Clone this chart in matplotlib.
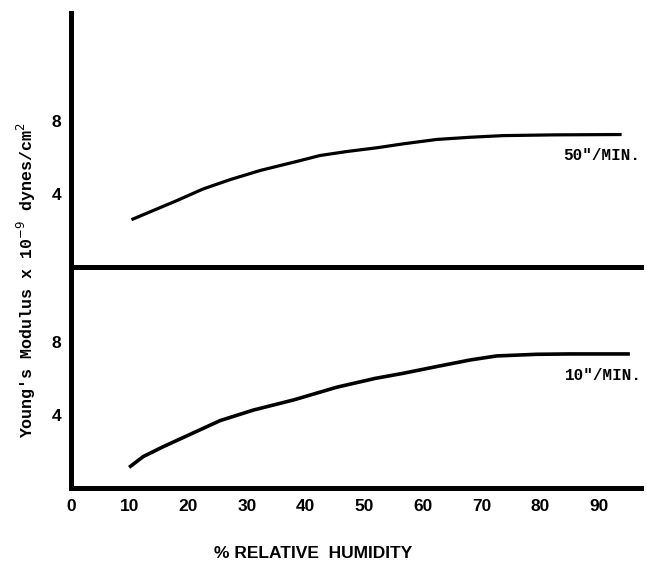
import numpy as np
import matplotlib.pyplot as plt

# Data
humidity_50 = [10.3, 14.0, 18.0, 22.5, 27.1, 32.2, 35.6, 39.0, 42.4, 47.0,
               52.0, 56.6, 62.3, 68.0, 73.6, 82.2, 93.8]
modulus_50 = [2.59, 3.09, 3.63, 4.27, 4.78, 5.28, 5.55, 5.82, 6.10, 6.32,
              6.52, 6.74, 6.98, 7.10, 7.19, 7.23, 7.25]

humidity_10 = [9.9, 12.3, 15.7, 19.7, 25.4, 31.1, 37.9, 45.3, 51.8, 56.6,
               62.3, 68.0, 72.5, 79.3, 85.0, 95.2]
modulus_10 = [1.13, 1.72, 2.26, 2.85, 3.69, 4.27, 4.82, 5.52, 6.0, 6.28,
              6.65, 7.01, 7.23, 7.32, 7.34, 7.34]

x_ticks = [0, 10, 20, 30, 40, 50, 60, 70, 80, 90]
y_ticks = [4, 8]

mono = ['Liberation Mono', 'DejaVu Sans Mono']
sans = ['Liberation Sans', 'DejaVu Sans']

fig = plt.figure(figsize=(6.47, 5.62), dpi=100)
ax_low = fig.add_axes([71 / 647, 74 / 562, 570 / 647, 221 / 562])
ax_up = fig.add_axes([71 / 647, 295 / 562, 570 / 647, 254 / 562])

for ax in (ax_up, ax_low):
    ax.set_xlim(0, 97.1)
    for s in ('top', 'right'):
        ax.spines[s].set_visible(False)
    for s in ('left', 'bottom'):
        ax.spines[s].set_linewidth(3.6)
        ax.spines[s].set_color('black')
    ax.set_yticks(y_ticks)
    ax.set_yticklabels([str(t) for t in y_ticks], fontfamily=sans,
                       fontweight='bold', fontsize=12.5)
    ax.tick_params(length=0, pad=7)

ax_up.set_ylim(0, 13.9)
ax_low.set_ylim(0, 12.1)

ax_up.set_xticks([])
ax_low.set_xticks(x_ticks)
ax_low.set_xticklabels([str(t) for t in x_ticks], fontfamily=sans,
                       fontweight='bold', fontsize=12.5)
ax_low.tick_params(axis='x', pad=8)

ax_up.plot(humidity_50, modulus_50, color='black', lw=2.3,
           solid_capstyle='butt', solid_joinstyle='round')
ax_low.plot(humidity_10, modulus_10, color='black', lw=2.6,
            solid_capstyle='butt', solid_joinstyle='round')

ax_up.text(83.8, 6.1, '50"/MIN.', fontfamily=mono, fontweight='bold',
           fontsize=11.5, ha='left', va='center')
ax_low.text(84.2, 6.15, '10"/MIN.', fontfamily=mono, fontweight='bold',
            fontsize=11.5, ha='left', va='center')

fig.text(26 / 647, 1 - 280 / 562,
         "Young's Modulus x 10$^{-9}$ dynes/cm$^{2}$",
         rotation=90, ha='center', va='center', fontfamily=mono,
         fontweight='bold', fontsize=12)

fig.text(313 / 647, 1 - 554 / 562, '% RELATIVE  HUMIDITY', ha='center',
         va='center', fontfamily=sans, fontweight='bold', fontsize=12.5)

fig.savefig('out.png', dpi=100)
